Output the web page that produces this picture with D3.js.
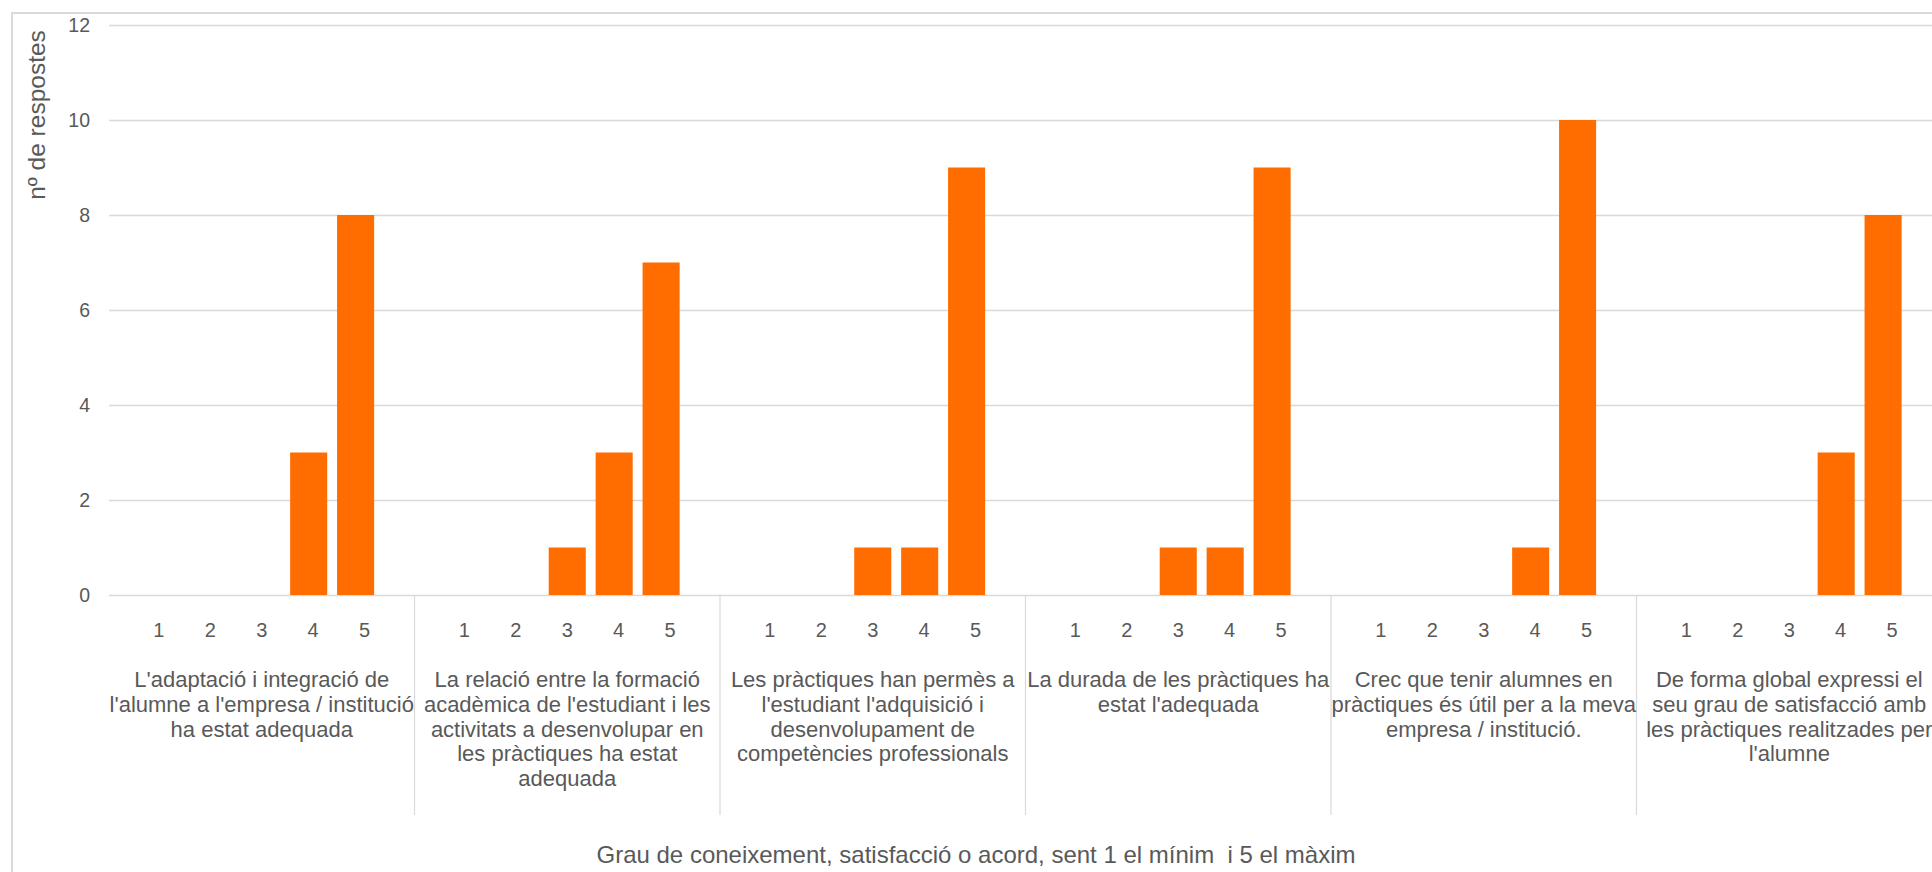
<!DOCTYPE html>
<html>
<head>
<meta charset="utf-8">
<script src="https://cdn.jsdelivr.net/npm/d3@7"></script>
<style>
  html, body { margin: 0; padding: 0; background: #fff; overflow: hidden; }
  svg { display: block; font-family: "Liberation Sans", Arial, sans-serif; }
</style>
</head>
<body>
<svg id="chart" width="1932" height="872"></svg>
<script>
// Survey questions (each one is a group of bars)
const questions = [
  ["L'adaptació i integració de", "l'alumne a l'empresa / institució", "ha estat adequada"],
  ["La relació entre la formació", "acadèmica de l'estudiant i les", "activitats a desenvolupar en", "les pràctiques ha estat", "adequada"],
  ["Les pràctiques han permès a", "l'estudiant l'adquisició i", "desenvolupament de", "competències professionals"],
  ["La durada de les pràctiques ha", "estat l'adequada"],
  ["Crec que tenir alumnes en", "pràctiques és útil per a la meva", "empresa / institució."],
  ["De forma global expressi el", "seu grau de satisfacció amb", "les pràctiques realitzades per", "l'alumne"]
];
// Rating scale 1..5
const ratings = ["1", "2", "3", "4", "5"];
// Number of answers for each rating, per question
const q1 = [0, 0, 0, 3, 8];
const q2 = [0, 0, 1, 3, 7];
const q3 = [0, 0, 1, 1, 9];
const q4 = [0, 0, 1, 1, 9];
const q5 = [0, 0, 0, 1, 10];
const q6 = [0, 0, 0, 3, 8];
const counts = [q1, q2, q3, q4, q5, q6];
const yTicks = [0, 2, 4, 6, 8, 10, 12];
const yTitle = "nº de respostes";
const xTitle = "Grau de coneixement, satisfacció o acord, sent 1 el mínim  i 5 el màxim";

const svg = d3.select("#chart");
const plot = { left: 109, right: 1942, top: 25, bottom: 595 };
const grid = "#d9d9d9", textColor = "#595959", barColor = "#ff6d00";

// chart frame (runs past the right and bottom edges of the view)
svg.append("rect")
  .attr("x", 12).attr("y", 13).attr("width", 2400).attr("height", 1200)
  .attr("fill", "none").attr("stroke", grid).attr("stroke-width", 2);

const y = d3.scaleLinear().domain([0, 12]).range([plot.bottom, plot.top]);
const xGroup = d3.scaleBand().domain(d3.range(questions.length)).range([plot.left, plot.right]);
const xBar = d3.scaleBand().domain(ratings).range([0, xGroup.bandwidth()])
  .paddingInner(0.21).paddingOuter(0.86);
const xLabel = d3.scalePoint().domain(ratings).range([0, xGroup.bandwidth()]).padding(0.97);

// horizontal gridlines + value axis
const yAxis = d3.axisLeft(y).tickValues(yTicks).tickSize(-(plot.right - plot.left)).tickPadding(19);
const gy = svg.append("g").attr("transform", `translate(${plot.left},0)`).call(yAxis);
gy.select(".domain").remove();
gy.selectAll(".tick line").attr("stroke", grid).attr("stroke-width", 1.5);
gy.selectAll(".tick text").attr("fill", textColor).attr("font-size", 19.5)
  .attr("font-family", "Liberation Sans, Arial, sans-serif");

// separators between question groups, below the baseline
svg.append("g").selectAll("line")
  .data(d3.range(1, questions.length))
  .join("line")
  .attr("x1", i => xGroup(i))
  .attr("x2", i => xGroup(i))
  .attr("y1", plot.bottom).attr("y2", 815)
  .attr("stroke", grid).attr("stroke-width", 1.2);

// bars
const groups = svg.append("g").selectAll("g.q")
  .data(counts)
  .join("g")
  .attr("class", "q")
  .attr("transform", (d, i) => `translate(${xGroup(i)},0)`);

groups.selectAll("rect")
  .data(d => d.map((v, j) => ({ r: ratings[j], v })))
  .join("rect")
  .attr("x", d => xBar(d.r))
  .attr("width", xBar.bandwidth())
  .attr("y", d => y(d.v))
  .attr("height", d => y(0) - y(d.v))
  .attr("fill", barColor);

// rating labels
groups.selectAll("text.r")
  .data(ratings)
  .join("text")
  .attr("class", "r")
  .attr("x", d => xLabel(d))
  .attr("y", 637)
  .attr("text-anchor", "middle")
  .attr("font-size", 20)
  .attr("fill", textColor)
  .text(d => d);

// question labels
const qLabels = svg.append("g").selectAll("text")
  .data(questions)
  .join("text")
  .attr("x", (d, i) => xGroup(i) + xGroup.bandwidth() / 2)
  .attr("y", 687)
  .attr("text-anchor", "middle")
  .attr("font-size", 22)
  .attr("fill", textColor);
qLabels.selectAll("tspan")
  .data(d => d)
  .join("tspan")
  .attr("x", function () { return d3.select(this.parentNode).attr("x"); })
  .attr("dy", (d, i) => i === 0 ? 0 : 24.8)
  .text(d => d);

// axis titles
svg.append("text")
  .attr("transform", `translate(45,115) rotate(-90)`)
  .attr("text-anchor", "middle")
  .attr("font-size", 24.5)
  .attr("fill", textColor)
  .text(yTitle);

svg.append("text")
  .attr("x", 976).attr("y", 863)
  .attr("text-anchor", "middle")
  .attr("font-size", 24)
  .attr("fill", textColor)
  .style("white-space", "pre")
  .text(xTitle);
</script>
</body>
</html>
